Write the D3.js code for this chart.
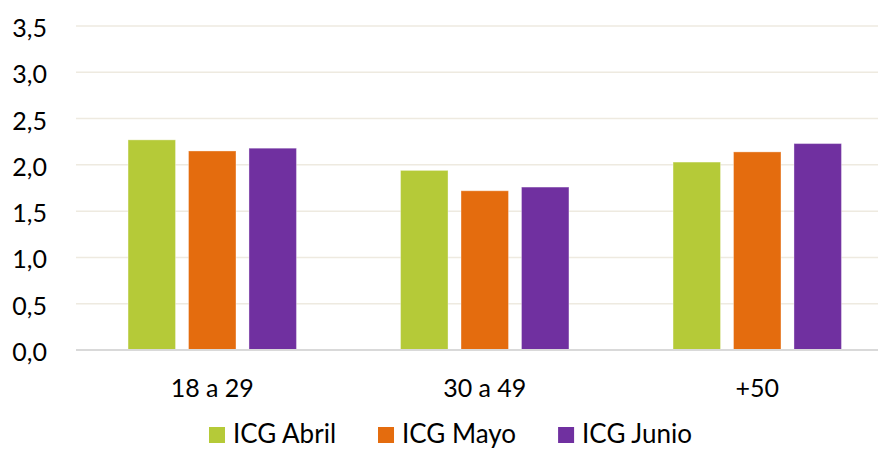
<!DOCTYPE html>
<html>
  <head>
    <meta charset="utf-8" />
    <style>
      body,
      html {
        width: 100%;
        height: 100%;
        margin: 0;
        padding: 0;
        overflow: hidden;
        background: #fff;
      }
      svg {
        display: block;
      }
      text {
        font-family: Lato, "Open Sans", sans-serif;
        fill: #000;
      }
    </style>
  </head>
  <body>
    <script src="https://cdn.jsdelivr.net/npm/d3@7"></script>
    <script>
      // chart data
      const ageGroups = ["18 a 29", "30 a 49", "+50"];
      const seriesNames = ["ICG Abril", "ICG Mayo", "ICG Junio"];
      const icgAbril = [2.27, 1.94, 2.03];
      const icgMayo = [2.15, 1.72, 2.14];
      const icgJunio = [2.18, 1.76, 2.23];
      const yTicks = [0, 0.5, 1, 1.5, 2, 2.5, 3, 3.5];
      const colors = ["#B5CA38", "#E46C0E", "#7030A0"];

      const width = 878;
      const height = 449;
      const plotLeft = 76;
      const plotRight = 893.5;
      const plotTop = 26;
      const plotBottom = 350;

      const seriesValues = [icgAbril, icgMayo, icgJunio];

      const svg = d3
        .select("body")
        .append("svg")
        .attr("width", width)
        .attr("height", height);

      const y = d3.scaleLinear().domain([0, 3.5]).range([plotBottom, plotTop]);

      const x0 = d3
        .scaleBand()
        .domain(ageGroups)
        .range([plotLeft, plotRight])
        .paddingInner(0.382)
        .paddingOuter(0.191);

      const x1 = d3
        .scaleBand()
        .domain(seriesNames)
        .range([0, x0.bandwidth()])
        .paddingInner(0.215);

      const fmt = (v) => d3.format(".1f")(v).replace(".", ",");

      // gridlines
      svg
        .append("g")
        .selectAll("line")
        .data(yTicks.filter((t) => t > 0))
        .enter()
        .append("line")
        .attr("x1", plotLeft)
        .attr("x2", width)
        .attr("y1", (d) => y(d))
        .attr("y2", (d) => y(d))
        .attr("stroke", "#EEEAE0")
        .attr("stroke-width", 1.5);

      // y tick labels
      svg
        .append("g")
        .selectAll("text")
        .data(yTicks)
        .enter()
        .append("text")
        .attr("x", 47)
        .attr("y", (d) => y(d) + 1)
        .attr("text-anchor", "end")
        .attr("dominant-baseline", "central")
        .attr("font-size", "25px")
        .text(fmt);

      // bars
      const groups = svg
        .append("g")
        .selectAll("g")
        .data(ageGroups)
        .enter()
        .append("g")
        .attr("transform", (d) => `translate(${x0(d)},0)`);

      groups
        .selectAll("rect")
        .data((d, i) =>
          seriesNames.map((s, j) => ({ s: s, v: seriesValues[j][i], c: colors[j] }))
        )
        .enter()
        .append("rect")
        .attr("x", (d) => x1(d.s))
        .attr("width", x1.bandwidth())
        .attr("y", (d) => y(d.v))
        .attr("height", (d) => plotBottom - y(d.v))
        .attr("fill", (d) => d.c)
        .attr("stroke", "#fff")
        .attr("stroke-opacity", 0.35)
        .attr("stroke-width", 1);

      // baseline
      svg
        .append("line")
        .attr("x1", plotLeft)
        .attr("x2", width)
        .attr("y1", plotBottom)
        .attr("y2", plotBottom)
        .attr("stroke", "#D9D9D9")
        .attr("stroke-width", 2);

      // x labels
      svg
        .append("g")
        .selectAll("text")
        .data(ageGroups)
        .enter()
        .append("text")
        .attr("x", (d) => x0(d) + x0.bandwidth() / 2)
        .attr("y", 397)
        .attr("text-anchor", "middle")
        .attr("font-size", "25px")
        .text((d) => d);

      // legend
      const legend = svg.append("g").attr("transform", "translate(209,0)");
      let lx = 0;
      seriesNames.forEach((name, i) => {
        const item = legend.append("g").attr("transform", `translate(${lx},0)`);
        item
          .append("rect")
          .attr("x", 0)
          .attr("y", 427)
          .attr("width", 16)
          .attr("height", 16)
          .attr("fill", colors[i]);
        const t = item
          .append("text")
          .attr("x", 24)
          .attr("y", 443)
          .attr("font-size", "26px")
          .text(name);
        lx += 24 + t.node().getComputedTextLength() + 42;
      });
    </script>
  </body>
</html>
